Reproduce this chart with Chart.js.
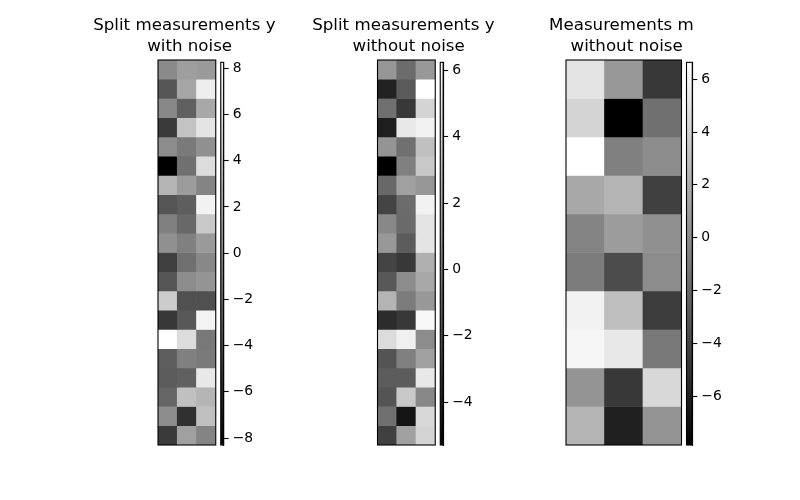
<!DOCTYPE html>
<html><head><meta charset="utf-8">
<script src="https://cdn.jsdelivr.net/npm/chart.js@4"></script>
<style>
html,body{margin:0;padding:0;background:#fff;}
#wrap{position:relative;width:800px;height:500px;overflow:hidden;background:#fff;}
canvas{position:absolute;}
</style></head><body><div id="wrap"></div>
<script>
const titles = [["Split measurements y "," with noise"],["Split measurements y "," without noise"],["Measurements m "," without noise"]];
const columns = ["0","1","2"];
const yNoisy = [
[0.66, 1.96, 1.70],[-2.78, 2.42, 7.16],[0.53, -2.07, 2.61],[-4.53, 4.43, 6.51],[0.79, -0.38, 1.05],
[-8.30, -1.03, 5.99],[3.39, 1.83, 0.27],[-2.78, -2.20, 7.42],[0.01, -1.55, 4.69],[1.05, 0.01, 1.70],
[-4.14, -1.03, 0.53],[-2.78, 0.79, 1.31],[4.95, -3.10, -3.10],[-4.66, -2.59, 7.55],[8.26, 5.99, -0.51],
[-2.20, 0.01, -0.38],[-2.33, -2.07, 6.77],[-1.68, 4.17, 3.39],[0.79, -5.18, 4.17],[-4.53, 2.09, 0.27]];
const yClean = [
[1.49, -0.41, 1.58],[-3.75, -1.22, 6.24],[-0.23, -2.76, 4.30],[-3.93, 5.20, 5.65],[1.40, -0.23, 3.39],
[-5.29, 0.50, 3.75],[-0.59, 1.95, 1.49],[-2.21, -0.41, 5.65],[0.86, -0.50, 5.02],[1.58, -1.13, 5.02],
[-2.21, -2.76, 2.67],[-1.31, 1.04, 2.31],[2.85, 0.32, 1.58],[-3.30, -2.76, 5.92],[4.66, 5.56, 1.04],
[-1.49, 0.50, 1.95],[-1.13, -1.13, 5.20],[-1.49, 3.75, 0.86],[-0.23, -4.39, 4.48],[-2.40, 1.95, 4.30]];
const mClean = [
[5.11, 0.79, -4.67],[4.20, -7.85, -1.49],[6.64, -0.58, 0.10],[1.70, 2.38, -4.21],[-0.35, 1.01, 0.33],
[-0.80, -3.53, 0.10],[5.90, 2.95, -4.44],[6.13, 5.33, -1.03],[0.56, -4.67, 4.42],[2.38, -6.03, 0.56]];
const ticks1 = [-8,-6,-4,-2,0,2,4,6,8];
const ticks2 = [-4,-2,0,2,4,6];
const ticks3 = [-6,-4,-2,0,2,4,6];

Chart.defaults.font.family = 'DejaVu Sans';
const wrap = document.getElementById('wrap');
function mkCanvas(left, top, w, h){
  const c = document.createElement('canvas');
  c.width = w; c.height = h;
  c.style.left = left+'px'; c.style.top = top+'px';
  c.style.width = w+'px'; c.style.height = h+'px';
  wrap.appendChild(c); return c;
}
function gray(v, vmin, vmax){
  const g = Math.round((v - vmin)/(vmax - vmin)*255);
  return 'rgb('+g+','+g+','+g+')';
}
const fmt = v => v < 0 ? '\u2212' + Math.abs(v) : String(v);
const frame = {id:'frame', afterDraw(chart){
  const {ctx, chartArea:a} = chart;
  ctx.save(); ctx.strokeStyle='#000'; ctx.lineWidth=1.1;
  ctx.strokeRect(a.left, a.top, a.right-a.left, a.bottom-a.top);
  ctx.restore();
}};
const TOP = 60, BOTTOM = 445;

function heatmap(cLeft, W, padL, imgW, title, grid){
  const H = 460;
  const rows = grid.length;
  const flat = grid.flat();
  const vmin = Math.min(...flat), vmax = Math.max(...flat);
  const datasets = grid.map((row, r) => ({
    data: row.map(() => [r, r+1]),
    backgroundColor: row.map(v => gray(v, vmin, vmax)),
    borderWidth: 0, barPercentage: 1, categoryPercentage: 1, grouped: false
  }));
  new Chart(mkCanvas(cLeft, 0, W, H), {
    type: 'bar',
    data: {labels: columns, datasets},
    options: {
      responsive:false, animation:false, devicePixelRatio:1,
      layout:{padding:{bottom: H - BOTTOM}},
      plugins:{legend:{display:false}, tooltip:{enabled:false},
        title:{display:true, text:title, color:'#000',
          font:{family:'DejaVu Sans', size:16.67, weight:'normal', lineHeight:1.25},
          padding:{top:15.5, bottom:TOP - 15.5 - 2*16.67*1.25}}},
      scales:{
        x:{type:'category', display:false, offset:true},
        y:{type:'linear', min:0, max:rows, reverse:true, position:'left',
          grid:{display:false}, border:{display:false}, ticks:{display:false},
          afterFit(s){ s.width = padL; }},
        y2:{type:'linear', position:'right',
          grid:{display:false}, border:{display:false}, ticks:{display:false},
          afterFit(s){ s.width = W - padL - imgW; }}
      }
    },
    plugins:[frame]
  });
  return [vmin, vmax];
}

function colorbar(cLeft, padL, cbW, range, tickVals){
  const W = 60, cTop = 50, H = 410;
  const [vmin, vmax] = range;
  new Chart(mkCanvas(cLeft, cTop, W, H), {
    type: 'bar',
    data: {labels:['cb'], datasets:[{
      data:[[vmin, vmax]],
      backgroundColor: (c) => {
        const a = c.chart.chartArea;
        if (!a) return '#888';
        const g = c.chart.ctx.createLinearGradient(0, a.bottom, 0, a.top);
        g.addColorStop(0, '#000'); g.addColorStop(1, '#fff');
        return g;
      },
      borderWidth:0, barPercentage:1, categoryPercentage:1}]},
    options: {
      responsive:false, animation:false, devicePixelRatio:1,
      layout:{padding:{left:padL, top:TOP - cTop, bottom: cTop + H - BOTTOM}},
      plugins:{legend:{display:false}, tooltip:{enabled:false}},
      scales:{
        x:{display:false},
        y:{type:'linear', position:'right', min:vmin, max:vmax,
          afterBuildTicks(s){ s.ticks = tickVals.map(v => ({value:v})); },
          ticks:{callback: fmt, color:'#000', padding:4, font:{family:'DejaVu Sans', size:13.9}},
          grid:{drawOnChartArea:false, drawTicks:true, tickLength:5, color:'#000', tickColor:'#000', tickWidth:1.1},
          border:{display:true, color:'#000', width:1.1},
          afterFit(s){ s.width = W - padL - cbW; }}
      }
    },
    plugins:[frame]
  });
}

const r1 = heatmap(57, 260, 101, 57.75, titles[0], yNoisy);
const r2 = heatmap(276, 260, 101.5, 57.75, titles[1], yClean);
const r3 = heatmap(494, 260, 72, 115.5, titles[2], mClean);
colorbar(215, 5.75, 2.89, r1, ticks1);
colorbar(435, 5.25, 2.89, r2, ticks2);
colorbar(681, 5.5, 5.78, r3, ticks3);
</script></body></html>
